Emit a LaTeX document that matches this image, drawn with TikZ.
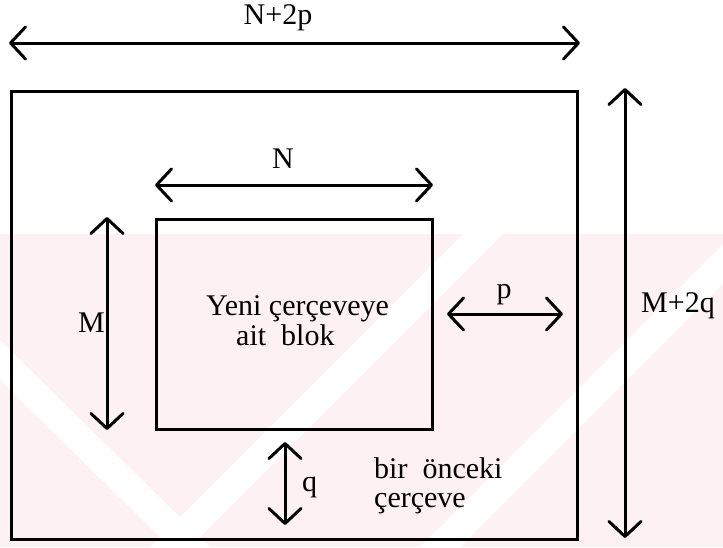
\documentclass[tikz,border=0pt]{standalone}
\usepackage{fontspec}
\setmainfont{LiberationSerif}[Extension=.ttf, UprightFont=*-Regular, BoldFont=*-Bold]
\usetikzlibrary{arrows.meta}
\definecolor{wm}{RGB}{254,241,243}
\begin{document}
\begin{tikzpicture}[x=1pt,y=-1pt,
  lbl/.style={inner sep=0pt, font=\fontsize{30}{34}\selectfont},
  frame/.style={draw, line width=2.6pt, inner sep=0pt},
  barb/.tip={Straight Barb[length=15pt,width=32pt,line cap=round,line join=round]},
  dim/.style={line width=3pt, barb-barb}]
\useasboundingbox (0,0) rectangle (723,547);
% faint watermark
\begin{scope}
\clip (0,234) rectangle (723,547);
\fill[wm] (0,234) rectangle (723,547);
\foreach \s in {150,420} {
  \fill[white] (\s,547) -- (\s+313,234) -- (\s+353,234) -- (\s+40,547) -- cycle;
}
\fill[white] (0,380) -- (170,547) -- (210,547) -- (0,340) -- cycle;
\end{scope}
% frames
\node[frame, minimum width=566pt, minimum height=448pt, anchor=north west] (outer) at (10,90) {};
\node[frame, minimum width=276pt, minimum height=210pt, anchor=north west] (inner) at (155,218) {};
% arrow end points
\coordinate (a1) at (9,43);   \coordinate (a2) at (580,43);
\coordinate (n1) at (155,185); \coordinate (n2) at (433,185);
\coordinate (m1) at (107,217); \coordinate (m2) at (107,430);
\coordinate (p1) at (447,314); \coordinate (p2) at (563,314);
\coordinate (q1) at (285,442); \coordinate (q2) at (285,525);
\coordinate (r1) at (625,88);  \coordinate (r2) at (625,538);
\draw[dim] (a1) -- (a2);
\draw[dim] (n1) -- (n2);
\draw[dim] (m1) -- (m2);
\draw[dim] (p1) -- (p2);
\draw[dim] (q1) -- (q2);
\draw[dim] (r1) -- (r2);
% labels
\node[lbl, anchor=base] (lNp) at (278,24) {N+2p};
\node[lbl, anchor=base] (lN) at (283,168) {N};
\node[lbl, anchor=base east] (lM) at (105,332) {M};
\node[lbl, anchor=base] (lp) at (504,298) {p};
\node[lbl, anchor=base west] (lMq) at (641,312) {M+2q};
\node[lbl, anchor=base west] (t1) at (206,315) {Yeni çerçeveye};
\node[lbl, anchor=base west] (t2) at (236,345) {ait\ \ blok};
\node[lbl, anchor=base west] (b1) at (374,478) {bir\ \ önceki};
\node[lbl, anchor=base west] (b2) at (374,507) {çerçeve};
\node[lbl, anchor=base west] (lq) at (302,491) {q};
\end{tikzpicture}
\end{document}
